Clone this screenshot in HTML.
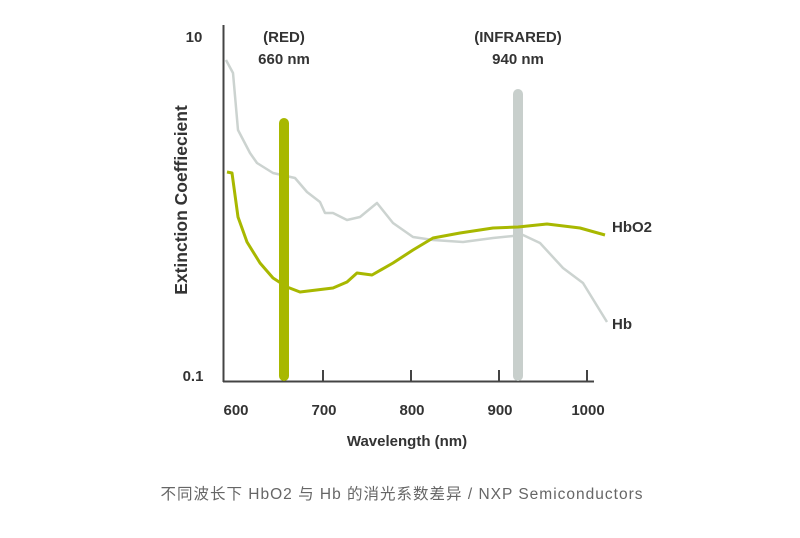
<!DOCTYPE html>
<html><head><meta charset="utf-8"><style>
html,body{margin:0;padding:0;background:#fff;width:800px;height:538px;overflow:hidden}
svg text{font-family:"Liberation Sans",Arial,sans-serif;fill:#333}
</style></head><body>
<svg width="800" height="538" viewBox="0 0 800 538" xmlns="http://www.w3.org/2000/svg">
<line x1="223.5" y1="25" x2="223.5" y2="382" stroke="#444" stroke-width="2"/>
<line x1="223" y1="381.5" x2="594" y2="381.5" stroke="#444" stroke-width="2"/>
<g stroke="#444" stroke-width="2">
<line x1="323" y1="370" x2="323" y2="382"/>
<line x1="411" y1="370" x2="411" y2="382"/>
<line x1="499" y1="370" x2="499" y2="382"/>
<line x1="587" y1="370" x2="587" y2="382"/>
</g>
<polyline fill="none" stroke="#ccd3d0" stroke-width="2.5" stroke-linejoin="round" points="226,60 233,73 238,130 250,153 257,163 273,173 295,178 307,192 320,202 325,213 333,213 347,220 360,217 377,203 393,223 413,237 433,240 463,242 493,238 523,235 540,243 563,268 583,283 607,322"/>
<line x1="284" y1="123" x2="284" y2="376" stroke="#a8b800" stroke-width="10" stroke-linecap="round"/>
<line x1="518" y1="94" x2="518" y2="376" stroke="#c8cfcc" stroke-width="10" stroke-linecap="round"/>
<polyline fill="none" stroke="#a8b800" stroke-width="3" stroke-linejoin="round" points="227,172 232,173 238,217 247,242 260,263 273,278 287,287 300,292 333,288 347,282 357,273 372,275 393,263 413,250 433,238 460,233 493,228 518,227 547,224 580,228 605,235"/>
<g font-size="15" font-weight="bold">
<text x="194" y="42" text-anchor="middle">10</text>
<text x="193" y="381" text-anchor="middle">0.1</text>
<text x="236" y="415" text-anchor="middle">600</text>
<text x="324" y="415" text-anchor="middle">700</text>
<text x="412" y="415" text-anchor="middle">800</text>
<text x="500" y="415" text-anchor="middle">900</text>
<text x="588" y="415" text-anchor="middle">1000</text>
<text x="407" y="446" text-anchor="middle">Wavelength (nm)</text>
<text transform="translate(187,200) rotate(-90)" text-anchor="middle" font-size="17.5">Extinction Coeffiecient</text>
<text x="284" y="42" text-anchor="middle">(RED)</text>
<text x="284" y="64" text-anchor="middle">660 nm</text>
<text x="518" y="42" text-anchor="middle">(INFRARED)</text>
<text x="518" y="64" text-anchor="middle">940 nm</text>
<text x="612" y="232">HbO2</text>
<text x="612" y="329">Hb</text>
</g>
<text x="402" y="499" text-anchor="middle" font-size="15.5" style="fill:#666;font-family:'Liberation Sans','Noto Sans CJK SC',sans-serif;letter-spacing:1px">不同波长下 HbO2 与 Hb 的消光系数差异 / NXP Semiconductors</text>
</svg>
</body></html>
